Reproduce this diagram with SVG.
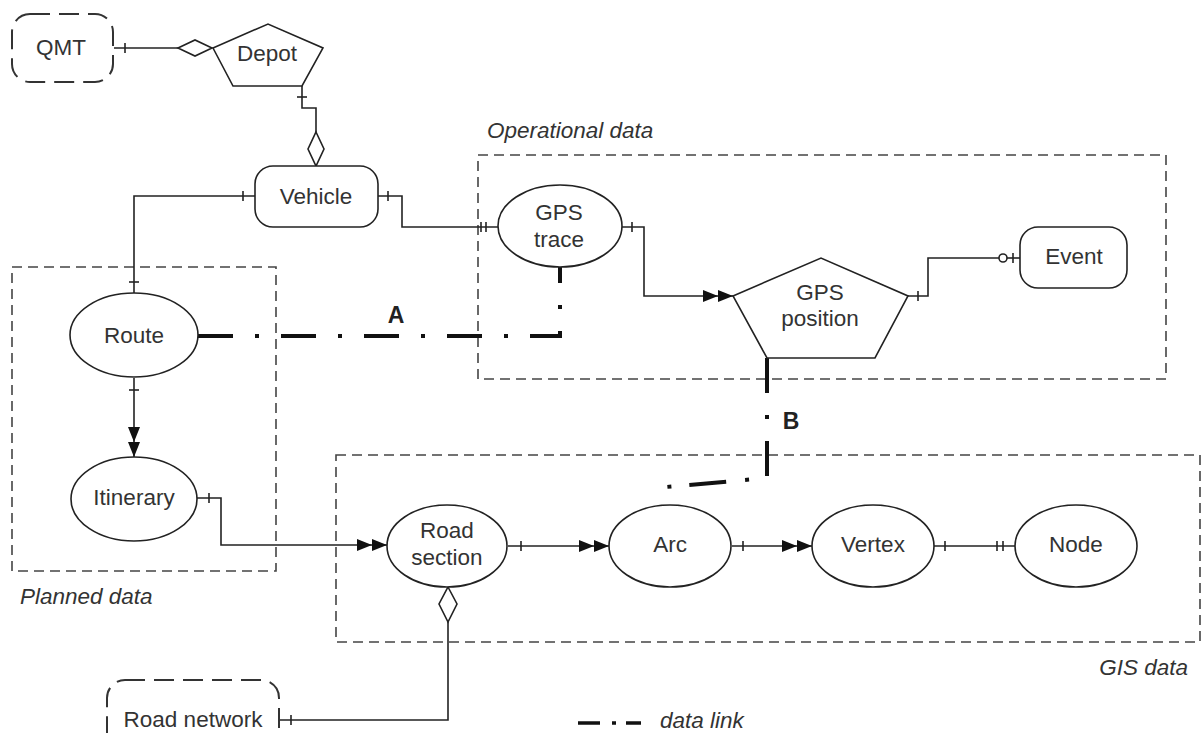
<svg xmlns="http://www.w3.org/2000/svg" width="1204" height="733" viewBox="0 0 1204 733">
<style>
.shape{fill:#fff;stroke:#222;stroke-width:1.6}
.ext{fill:none;stroke:#333;stroke-width:2;stroke-dasharray:20 9}
.box{fill:none;stroke:#444;stroke-width:1.6;stroke-dasharray:10 6}
.t{font-family:"Liberation Sans",Arial,sans-serif;font-size:22.5px;fill:#333;text-anchor:middle}
.lbl{font-family:"Liberation Sans",Arial,sans-serif;font-size:22.5px;fill:#333;font-style:italic}
.ab{font-family:"Liberation Sans",Arial,sans-serif;font-size:23px;fill:#222;font-weight:bold;text-anchor:middle}
.c{fill:none;stroke:#222;stroke-width:1.6}
.tk{stroke:#222;stroke-width:1.6}
.dl{fill:none;stroke:#111;stroke-width:4;stroke-dasharray:35 22 4 22}
.dia{fill:#fff;stroke:#222;stroke-width:1.6}
</style>
<defs>
<marker id="dbl" markerUnits="userSpaceOnUse" viewBox="-31 -7 32 14" refX="0" refY="0" markerWidth="32" markerHeight="14" orient="auto">
<path d="M-30,-6 L-15,0 L-30,6 Z M-15,-6 L0,0 L-15,6 Z" fill="#111"/>
</marker>
</defs>

<g id="boxes">
<rect class="box" x="12" y="267" width="264" height="304"/>
<rect class="box" x="478" y="155" width="688" height="224"/>
<rect class="box" x="336" y="455" width="864" height="187"/>
<text class="lbl" x="487" y="138">Operational data</text>
<text class="lbl" x="20" y="604">Planned data</text>
<text class="lbl" x="1188" y="675" text-anchor="end">GIS data</text>
</g>

<g id="connectors">
<!-- QMT - Depot -->
<path class="c" d="M114 48 H178"/>
<line class="tk" x1="125" y1="43" x2="125" y2="53"/>
<polygon class="dia" points="178,48 195,40 212,48 195,56"/>
<!-- Depot - Vehicle -->
<path class="c" d="M302 86 V108 H316 V132"/>
<line class="tk" x1="297" y1="97" x2="307" y2="97"/>
<polygon class="dia" points="316,132 324,149 316,166 308,149"/>
<!-- Vehicle - Route -->
<path class="c" d="M255 196 H134 V293"/>
<line class="tk" x1="243" y1="191" x2="243" y2="201"/>
<line class="tk" x1="129" y1="282" x2="139" y2="282"/>
<!-- Vehicle - GPS trace -->
<path class="c" d="M378 196 H402 V227 H498"/>
<line class="tk" x1="388" y1="191" x2="388" y2="201"/>
<line class="tk" x1="481" y1="222" x2="481" y2="232"/>
<line class="tk" x1="486" y1="222" x2="486" y2="232"/>
<!-- GPS trace - GPS position -->
<path class="c" d="M621 227 H644 V296 H733" marker-end="url(#dbl)"/>
<line class="tk" x1="632" y1="222" x2="632" y2="232"/>
<!-- GPS position - Event -->
<path class="c" d="M908 296 H928 V258 H999"/>
<line class="tk" x1="918" y1="291" x2="918" y2="301"/>
<circle cx="1003" cy="258" r="4" fill="#fff" stroke="#222" stroke-width="1.6"/>
<path class="c" d="M1007 258 H1020"/>
<line class="tk" x1="1013" y1="253" x2="1013" y2="263"/>
<!-- Route - Itinerary -->
<path class="c" d="M134 378 V457" marker-end="url(#dbl)"/>
<line class="tk" x1="129" y1="390" x2="139" y2="390"/>
<!-- Itinerary - Road section -->
<path class="c" d="M197 498 H221 V545 H387" marker-end="url(#dbl)"/>
<line class="tk" x1="209" y1="493" x2="209" y2="503"/>
<!-- Road section - Arc -->
<path class="c" d="M508 546 H609" marker-end="url(#dbl)"/>
<line class="tk" x1="521" y1="541" x2="521" y2="551"/>
<!-- Arc - Vertex -->
<path class="c" d="M732 546 H812" marker-end="url(#dbl)"/>
<line class="tk" x1="743" y1="541" x2="743" y2="551"/>
<!-- Vertex - Node -->
<path class="c" d="M934 546 H1015"/>
<line class="tk" x1="945" y1="541" x2="945" y2="551"/>
<line class="tk" x1="997" y1="541" x2="997" y2="551"/>
<line class="tk" x1="1003" y1="541" x2="1003" y2="551"/>
<!-- Road network - Road section -->
<path class="c" d="M279 720 H448 V622"/>
<line class="tk" x1="291" y1="715" x2="291" y2="725"/>
<polygon class="dia" points="448,587 457,604 448,622 439,604"/>
<!-- data link A -->
<path class="dl" d="M198 336 H560 V267"/>
<text class="ab" x="396" y="323">A</text>
<!-- data link B -->
<path class="dl" style="stroke-dasharray:35 22 4 22 35 20 4 19 37 18 4 60" d="M767 358 V478 L666 487"/>
<text class="ab" x="791" y="429">B</text>
<!-- legend -->
<path d="M578 723 H600 M612 723 H616 M626 723 H641" stroke="#111" stroke-width="3.5"/>
<text class="lbl" x="660" y="728">data link</text>
</g>

<g id="QMT">
<rect class="ext" x="12" y="14" width="101" height="68" rx="18"/>
<text class="t" x="61" y="55">QMT</text>
</g>
<g id="Depot">
<polygon class="shape" points="213,48 268,24 323,48 302,86 233,86"/>
<text class="t" x="267" y="61">Depot</text>
</g>
<g id="Vehicle">
<rect class="shape" x="255" y="166" width="123" height="61" rx="18"/>
<text class="t" x="316" y="204">Vehicle</text>
</g>
<g id="GPS_trace">
<ellipse class="shape" cx="560" cy="226" rx="62" ry="41"/>
<text class="t" x="559" y="220">GPS</text>
<text class="t" x="559" y="247">trace</text>
</g>
<g id="GPS_position">
<polygon class="shape" points="733,296 821,258 908,296 875,358 767,358"/>
<text class="t" x="820" y="300">GPS</text>
<text class="t" x="820" y="326">position</text>
</g>
<g id="Event">
<rect class="shape" x="1020" y="227" width="107" height="61" rx="18"/>
<text class="t" x="1074" y="264">Event</text>
</g>
<g id="Route">
<ellipse class="shape" cx="134" cy="335" rx="64" ry="42"/>
<text class="t" x="134" y="343">Route</text>
</g>
<g id="Itinerary">
<ellipse class="shape" cx="134" cy="499" rx="63" ry="42"/>
<text class="t" x="134" y="505">Itinerary</text>
</g>
<g id="Road_section">
<ellipse class="shape" cx="447" cy="546" rx="60" ry="41"/>
<text class="t" x="447" y="538">Road</text>
<text class="t" x="447" y="565">section</text>
</g>
<g id="Arc">
<ellipse class="shape" cx="670" cy="546" rx="61" ry="41"/>
<text class="t" x="670" y="552">Arc</text>
</g>
<g id="Vertex">
<ellipse class="shape" cx="873" cy="546" rx="61" ry="41"/>
<text class="t" x="873" y="552">Vertex</text>
</g>
<g id="Node">
<ellipse class="shape" cx="1076" cy="546" rx="61" ry="41"/>
<text class="t" x="1076" y="552">Node</text>
</g>
<g id="Road_network">
<rect class="ext" x="107" y="680" width="172" height="80" rx="18"/>
<text class="t" x="193" y="727">Road network</text>
</g>
</svg>
